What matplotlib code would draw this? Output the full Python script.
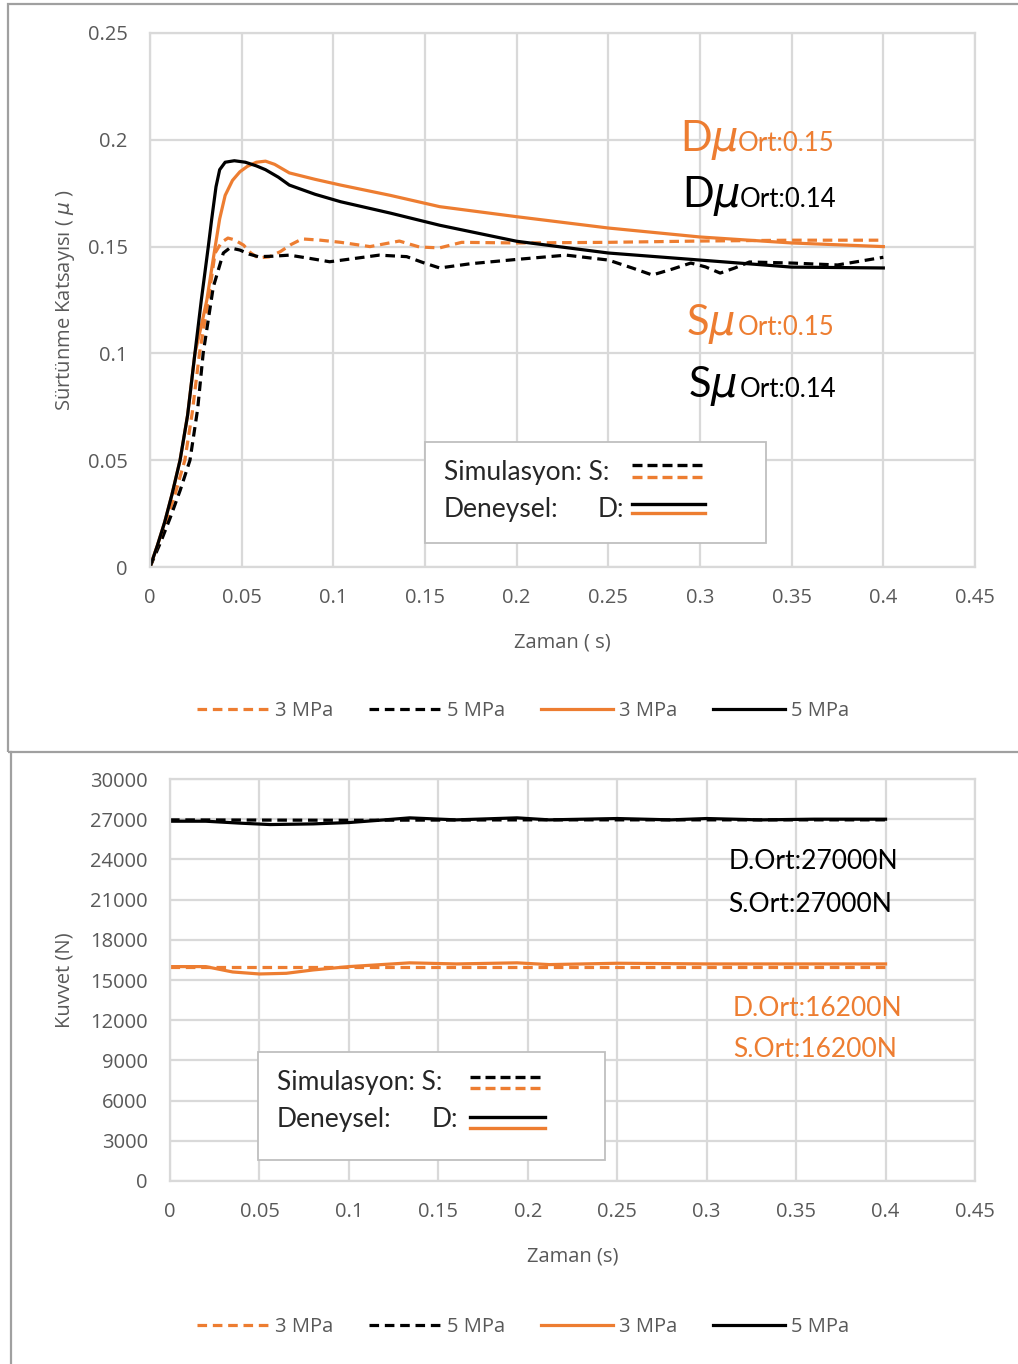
import matplotlib
matplotlib.use("Agg")
import matplotlib.pyplot as plt
from matplotlib.patches import Rectangle
from matplotlib.lines import Line2D

plt.rcParams['font.family'] = ['Open Sans', 'DejaVu Sans']

ORANGE = '#ED7D31'
GRID = '#d9d9d9'
TICKCOL = '#595959'

# --- friction coefficient chart (top) ---
t_s3 = [0, 0.005, 0.009, 0.014, 0.019, 0.023, 0.027, 0.0318, 0.0355, 0.039, 0.0425, 0.046, 0.051,
        0.055, 0.059, 0.065, 0.071, 0.077, 0.083, 0.093, 0.104, 0.12, 0.136, 0.147, 0.158, 0.17, 0.2,
        0.25, 0.3, 0.35, 0.4]
mu_s3 = [0, 0.012, 0.022, 0.035, 0.05, 0.072, 0.1, 0.125, 0.147, 0.152, 0.154, 0.1532, 0.1507,
         0.147, 0.1447, 0.1452, 0.1476, 0.151, 0.1536, 0.153, 0.152, 0.150, 0.1526, 0.1498, 0.1494,
         0.152, 0.1517, 0.152, 0.1526, 0.153, 0.153]

t_s5 = [0, 0.006, 0.011, 0.0165, 0.0218, 0.026, 0.029, 0.0345, 0.040, 0.0436, 0.049, 0.054, 0.059,
        0.067, 0.076, 0.087, 0.098, 0.112, 0.125, 0.140, 0.149, 0.158, 0.175, 0.2, 0.227, 0.25, 0.263,
        0.274, 0.285, 0.295, 0.303, 0.311, 0.319, 0.327, 0.35, 0.375, 0.4]
mu_s5 = [0, 0.012, 0.023, 0.036, 0.05, 0.074, 0.1, 0.131, 0.147, 0.1494, 0.1484, 0.1465, 0.1453,
         0.1455, 0.146, 0.1445, 0.1429, 0.1445, 0.146, 0.1453, 0.1425, 0.140, 0.142, 0.144, 0.146,
         0.1437, 0.140, 0.1367, 0.1395, 0.1423, 0.1405, 0.1376, 0.140, 0.1428, 0.1423, 0.1414, 0.145]

t_d3 = [0, 0.004, 0.008, 0.012, 0.0164, 0.0205, 0.0245, 0.028, 0.031, 0.035, 0.038, 0.041, 0.045,
        0.049, 0.053, 0.058, 0.063, 0.068, 0.076, 0.09, 0.104, 0.131, 0.158, 0.2, 0.25, 0.3, 0.35,
        0.4]
mu_d3 = [0, 0.01, 0.021, 0.034, 0.05, 0.071, 0.1, 0.113, 0.125, 0.147, 0.163, 0.174, 0.181, 0.185,
         0.1875, 0.1895, 0.190, 0.1885, 0.1845, 0.1815, 0.1788, 0.174, 0.1687, 0.164, 0.1587,
         0.1545, 0.1517, 0.150]

t_d5 = [0, 0.004, 0.008, 0.012, 0.0164, 0.0205, 0.0245, 0.028, 0.0318, 0.0336, 0.036, 0.038, 0.041,
        0.046, 0.052, 0.058, 0.063, 0.07, 0.076, 0.09, 0.104, 0.131, 0.158, 0.2, 0.25, 0.3, 0.35, 0.4]
mu_d5 = [0, 0.01, 0.021, 0.034, 0.05, 0.071, 0.1, 0.125, 0.15, 0.1625, 0.178, 0.186, 0.1895, 0.1902,
         0.1895, 0.1878, 0.186, 0.1825, 0.1788, 0.1745, 0.171, 0.1657, 0.160, 0.1525, 0.147, 0.1437,
         0.1404, 0.140]

# --- force chart (bottom) ---
tf_s3 = [0, 0.1, 0.2, 0.3, 0.4]
f_s3 = [16000, 16000, 16000, 16000, 16000]

tf_s5 = [0, 0.1, 0.2, 0.3, 0.4]
f_s5 = [26950, 26920, 26950, 26950, 26950]

tf_d3 = [0, 0.02, 0.035, 0.05, 0.065, 0.08, 0.1, 0.134, 0.16, 0.194, 0.212, 0.25, 0.3, 0.35, 0.4]
f_d3 = [16000, 16000, 15600, 15450, 15500, 15750, 16000, 16280, 16200, 16280, 16150, 16250, 16200,
        16200, 16200]

tf_d5 = [0, 0.02, 0.04, 0.056, 0.08, 0.1, 0.12, 0.134, 0.16, 0.194, 0.212, 0.25, 0.28, 0.3, 0.33,
         0.36, 0.4]
f_d5 = [26850, 26850, 26700, 26600, 26650, 26750, 26950, 27100, 26950, 27100, 26950, 27050, 26950,
        27050, 26950, 27000, 27000]

legend_labels = ['3 MPa', '5 MPa', '3 MPa', '5 MPa']

fig = plt.figure(figsize=(10.18, 13.64), dpi=100)
W, H = 1018, 1364


def fx(px):
    return px / W


def fy(py):
    return 1 - py / H


ax1 = fig.add_axes([fx(150), fy(567), fx(975) - fx(150), fy(33) - fy(567)])
ax2 = fig.add_axes([fx(170), fy(1181), fx(975) - fx(170), fy(779) - fy(1181)])

LW = 2.3
DASH = (3.0, 1.8)
FS = 14.5


def style(ax, xticks, xlabels, yticks, ylabels):
    ax.set_xticks(xticks)
    ax.set_xticklabels(xlabels)
    ax.set_yticks(yticks)
    ax.set_yticklabels(ylabels)
    ax.grid(True, color=GRID, lw=1.6)
    ax.set_axisbelow(True)
    for s in ax.spines.values():
        s.set_color(GRID)
        s.set_linewidth(1.6)
    ax.tick_params(length=0, labelsize=FS, labelcolor=TICKCOL)
    ax.tick_params(axis='y', pad=16)
    ax.tick_params(axis='x', pad=15)


def lines(ax, data):
    h = []
    for (t, v, c, dashed) in data:
        if dashed:
            l, = ax.plot(t, v, color=c, lw=LW, dashes=DASH)
        else:
            l, = ax.plot(t, v, color=c, lw=LW)
        h.append(l)
    return h


h1 = lines(ax1, [(t_s3, mu_s3, ORANGE, True), (t_s5, mu_s5, 'black', True),
                 (t_d3, mu_d3, ORANGE, False), (t_d5, mu_d5, 'black', False)])
ax1.set_xlim(0, 0.45)
ax1.set_ylim(0, 0.25)
xt = [0, 0.05, 0.1, 0.15, 0.2, 0.25, 0.3, 0.35, 0.4, 0.45]
xl = ['0', '0.05', '0.1', '0.15', '0.2', '0.25', '0.3', '0.35', '0.4', '0.45']
style(ax1, xt, xl, [0, 0.05, 0.1, 0.15, 0.2, 0.25], ['0', '0.05', '0.1', '0.15', '0.2', '0.25'])
ax1.set_xlabel('Zaman ( s)', fontsize=FS, color=TICKCOL)
ax1.xaxis.set_label_coords(0.5, -0.122)
ax1.set_ylabel('Sürtünme Katsayısı ( $\\mu$ )', fontsize=FS, color=TICKCOL)
ax1.yaxis.set_label_coords(-0.0885, 0.5)

h2 = lines(ax2, [(tf_s3, f_s3, ORANGE, True), (tf_s5, f_s5, 'black', True),
                 (tf_d3, f_d3, ORANGE, False), (tf_d5, f_d5, 'black', False)])
ax2.set_xlim(0, 0.45)
ax2.set_ylim(0, 30000)
yt2 = list(range(0, 30001, 3000))
style(ax2, xt, xl, yt2, [str(v) for v in yt2])
ax2.set_xlabel('Zaman (s)', fontsize=FS, color=TICKCOL)
ax2.xaxis.set_label_coords(0.5, -0.164)
ax2.set_ylabel('Kuvvet (N)', fontsize=FS, color=TICKCOL)
ax2.yaxis.set_label_coords(-0.119, 0.5)

# legends under each chart
for h, yc in [(h1, fy(711)), (h2, fy(1327))]:
    fig.legend(h, legend_labels, loc='center', bbox_to_anchor=(fx(523), yc), ncol=4,
               frameon=False, fontsize=FS, handlelength=3.6, handletextpad=0.3,
               columnspacing=1.75, labelcolor=TICKCOL)

# annotations on the friction chart
big = dict(family=['Lato', 'DejaVu Sans'], fontsize=30, va='baseline')
small = dict(family=['Lato', 'DejaVu Sans'], fontsize=18.5, va='baseline')
for (x0, x1, yb, lead, sub, c) in [(0.289, 0.3207, 0.1948, 'D', 'Ort:0.15', ORANGE),
                                   (0.290, 0.3217, 0.1685, 'D', 'Ort:0.14', 'black'),
                                   (0.2925, 0.3207, 0.1086, 'S', 'Ort:0.15', ORANGE),
                                   (0.2935, 0.3217, 0.0796, 'S', 'Ort:0.14', 'black')]:
    ax1.text(x0, yb, lead + '$\\mu$', color=c, **big)
    ax1.text(x1, yb, sub, color=c, **small)

# annotations on the force chart
ann = dict(family=['Lato', 'DejaVu Sans'], fontsize=19, va='baseline')
ax2.text(0.312, 23284, 'D.Ort:27000N', color='black', **ann)
ax2.text(0.312, 20075, 'S.Ort:27000N', color='black', **ann)
ax2.text(0.3147, 12313, 'D.Ort:16200N', color=ORANGE, **ann)
ax2.text(0.3147, 9254, 'S.Ort:16200N', color=ORANGE, **ann)


# key boxes drawn inside the charts
def keybox(ax, x0, x1, y0, y1, tx, dx, yb1, yb2, lx0, lx1, ys):
    ax.add_patch(Rectangle((x0, y0), x1 - x0, y1 - y0, facecolor='white', edgecolor='#bfbfbf',
                           lw=1.3, zorder=5))
    kw = dict(family=['Lato', 'DejaVu Sans'], fontsize=19, va='baseline', color='#262626', zorder=6)
    ax.text(tx, yb1, 'Simulasyon: S:', **kw)
    ax.text(tx, yb2, 'Deneysel:', **kw)
    ax.text(dx, yb2, 'D:', **kw)
    for y, c, dashed in zip(ys, ['black', ORANGE, 'black', ORANGE], [True, True, False, False]):
        ln = Line2D([lx0, lx1], [y, y], color=c, lw=2.4, zorder=6)
        if dashed:
            ln.set_dashes((3.0, 1.5))
        ax.add_line(ln)


keybox(ax1, 0.150, 0.336, 0.01124, 0.0585, 0.1604, 0.2444, 0.0407, 0.0234, 0.2629, 0.3027,
       [0.04775, 0.04213, 0.0295, 0.02528])
keybox(ax2, 0.0492, 0.2432, 1567, 9627, 0.0598, 0.1465, 6791, 4030, 0.1677, 0.2096,
       [7761, 6940, 4776, 3955])

# panel frames
fig.patches.append(Rectangle((fx(8), fy(752)), 1.2, fy(4) - fy(752), transform=fig.transFigure,
                             fill=False, edgecolor='#a0a0a0', lw=1.6))
fig.lines.append(Line2D([fx(11), fx(11)], [fy(752), 0], transform=fig.transFigure,
                        color='#a0a0a0', lw=1.6))

fig.savefig('out.png', dpi=100, facecolor='white')
